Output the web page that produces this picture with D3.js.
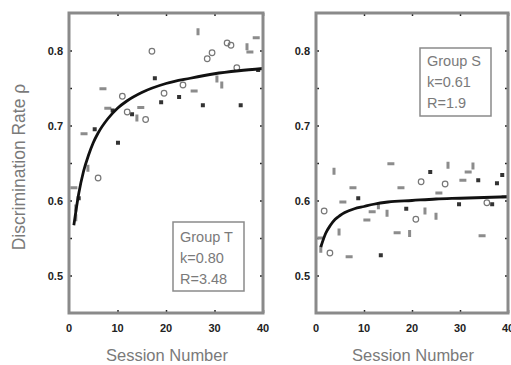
<!DOCTYPE html>
<html>
<head>
<meta charset="utf-8">
<script src="https://cdn.jsdelivr.net/npm/d3@7"></script>
<style>
  body { margin: 0; background: #fff; }
  svg { display: block; font-family: "Liberation Sans", Arial, sans-serif; }
</style>
</head>
<body>
<div id="chart"></div>
<script>
const curveSessions = [1, 2, 3, 4, 5, 6, 8, 10, 12, 15, 20, 25, 30, 35, 40];
const curveT = [0.567, 0.609, 0.639, 0.660, 0.677, 0.690, 0.709, 0.723, 0.733, 0.744, 0.756, 0.763, 0.769, 0.773, 0.776];
const curveS = [0.538, 0.556, 0.567, 0.575, 0.580, 0.584, 0.589, 0.592, 0.595, 0.598, 0.600, 0.602, 0.603, 0.604, 0.605];

// group T points [session, rate]
const circlesT = [[17.1, 0.799], [32.6, 0.81], [33.4, 0.807], [28.5, 0.789], [29.5, 0.797], [19.6, 0.743],
  [23.5, 0.754], [34.6, 0.777], [11, 0.739], [12, 0.718], [15.8, 0.708], [6, 0.63]];
const squaresT = [[17.7, 0.763], [19, 0.731], [22.7, 0.738], [27.6, 0.727], [35.4, 0.727], [39, 0.774],
  [9, 0.72], [13, 0.715], [5.3, 0.695], [10.1, 0.677], [2, 0.603]];
const dashesT = [[7, 0.749], [8, 0.723], [14.8, 0.724], [25.8, 0.746], [37.3, 0.798], [38.6, 0.817],
  [3.1, 0.689], [1, 0.617]];
const barsT = [[26.6, 0.825], [36.7, 0.805], [30.5, 0.762], [31.5, 0.754], [14, 0.71], [3.9, 0.643],
  [1.4, 0.59], [1.4, 0.577]];

// group S points
const circlesS = [[1.7, 0.586], [2.9, 0.53], [21.9, 0.625], [26.9, 0.622], [20.8, 0.575], [35.6, 0.597]];
const squaresS = [[8.8, 0.603], [13.5, 0.527], [18.8, 0.589], [23.8, 0.638], [38.8, 0.634], [29.8, 0.595],
  [33.8, 0.627], [37.7, 0.623], [36.7, 0.595]];
const dashesS = [[15.6, 0.649], [7.7, 0.617], [17.7, 0.617], [5.6, 0.598], [11.7, 0.585], [10.6, 0.574],
  [16.9, 0.557], [6.9, 0.525], [31.7, 0.638], [30.6, 0.627], [25.6, 0.61], [34.6, 0.553], [39.4, 0.605], [1, 0.55]];
const barsS = [[3.75, 0.639], [27.5, 0.647], [32.7, 0.646], [13, 0.593], [14.8, 0.583], [4.8, 0.558],
  [19.5, 0.556], [22.7, 0.586], [25, 0.579], [1, 0.535]];

const xTicks = [0, 10, 20, 30, 40];
const yTicks = [0.5, 0.6, 0.7, 0.8];
const yMinorTicks = [0.55, 0.65, 0.75];
const legendT = ['Group T', 'k=0.80', 'R=3.48'];
const legendS = ['Group S', 'k=0.61', 'R=1.9'];

const panels = [
  { left: 69, right: 263, curve: curveT, circles: circlesT, squares: squaresT, dashes: dashesT, bars: barsT,
    legend: legendT, box: [173, 222, 71, 69], textTop: 20 },
  { left: 316, right: 508, curve: curveS, circles: circlesS, squares: squaresS, dashes: dashesS, bars: barsS,
    legend: legendS, box: [420, 48, 71, 68], textTop: 18 }
];

const plotTop = 13, plotBottom = 313;
const frameColor = '#8a8a8a';
const textGray = '#7a7a7a';

const svg = d3.select('#chart').append('svg')
  .attr('width', 511)
  .attr('height', 365);

const y = d3.scaleLinear().domain([0.45, 0.85]).range([plotBottom, plotTop]);

panels.forEach(p => {
  const x = d3.scaleLinear().domain([0, 40]).range([p.left, p.right]);
  const g = svg.append('g');

  // inward ticks on all four sides
  g.append('g')
    .attr('transform', `translate(0,${plotBottom})`)
    .call(d3.axisBottom(x).tickValues(xTicks.slice(1)).tickSize(-3).tickFormat(''))
    .call(a => a.select('.domain').remove());
  g.append('g')
    .attr('transform', `translate(0,${plotTop})`)
    .call(d3.axisTop(x).tickValues(xTicks.slice(1)).tickSize(-3).tickFormat(''))
    .call(a => a.select('.domain').remove());
  g.append('g')
    .attr('transform', `translate(${p.left},0)`)
    .call(d3.axisLeft(y).tickValues(yTicks.concat(yMinorTicks)).tickSize(-3).tickFormat(''))
    .call(a => a.select('.domain').remove());
  g.append('g')
    .attr('transform', `translate(${p.right},0)`)
    .call(d3.axisRight(y).tickValues(yTicks.concat(yMinorTicks)).tickSize(-3).tickFormat(''))
    .call(a => a.select('.domain').remove());
  g.selectAll('.tick line').attr('stroke', '#222').attr('stroke-width', 1.5);

  // tick labels
  g.selectAll('.xl').data(xTicks).enter().append('text')
    .attr('x', d => x(d)).attr('y', 332)
    .attr('text-anchor', 'middle')
    .attr('font-size', 11).attr('font-weight', 'bold').attr('fill', '#222')
    .text(d => d);
  g.selectAll('.yl').data(yTicks).enter().append('text')
    .attr('x', p.left - 6).attr('y', d => y(d) + 4)
    .attr('text-anchor', 'end')
    .attr('font-size', 11).attr('font-weight', 'bold').attr('fill', '#222')
    .text(d => d3.format('.1f')(d));

  // points
  g.selectAll('.dash').data(p.dashes).enter().append('rect')
    .attr('x', d => x(d[0]) - 3.5).attr('y', d => y(d[1]) - 1.5)
    .attr('width', 7).attr('height', 3).attr('fill', '#8c8c8c');
  g.selectAll('.bar').data(p.bars).enter().append('rect')
    .attr('x', d => x(d[0]) - 1.5).attr('y', d => y(d[1]) - 3.5)
    .attr('width', 3).attr('height', 7).attr('fill', '#8c8c8c');
  g.selectAll('.sq').data(p.squares).enter().append('rect')
    .attr('x', d => x(d[0]) - 2).attr('y', d => y(d[1]) - 2)
    .attr('width', 4).attr('height', 4).attr('fill', '#333');
  g.selectAll('.circ').data(p.circles).enter().append('circle')
    .attr('cx', d => x(d[0])).attr('cy', d => y(d[1])).attr('r', 2.8)
    .attr('fill', 'none').attr('stroke', '#777').attr('stroke-width', 1.2);

  // fitted curve
  const line = d3.line()
    .x((d, i) => x(curveSessions[i]))
    .y(d => y(d))
    .curve(d3.curveMonotoneX);
  g.append('path')
    .datum(p.curve)
    .attr('d', line)
    .attr('fill', 'none').attr('stroke', '#111').attr('stroke-width', 2.8);

  // frame
  g.append('rect')
    .attr('x', p.left).attr('y', plotTop)
    .attr('width', p.right - p.left).attr('height', plotBottom - plotTop)
    .attr('fill', 'none').attr('stroke', frameColor).attr('stroke-width', 3);

  // legend box
  const [bx, by, bw, bh] = p.box;
  g.append('rect')
    .attr('x', bx).attr('y', by).attr('width', bw).attr('height', bh)
    .attr('fill', '#fff').attr('stroke', frameColor).attr('stroke-width', 1.5);
  g.selectAll('.lg').data(p.legend).enter().append('text')
    .attr('x', bx + 7).attr('y', (d, i) => by + p.textTop + i * 21)
    .attr('font-size', 14.5).attr('fill', textGray)
    .text(d => d);

  // x title
  g.append('text')
    .attr('x', (p.left + p.right) / 2 + 1).attr('y', 361)
    .attr('text-anchor', 'middle')
    .attr('font-size', 16.5).attr('fill', textGray)
    .text('Session Number');
});

svg.append('text')
  .attr('transform', `translate(25,${(plotTop + plotBottom) / 2 + 4}) rotate(-90)`)
  .attr('text-anchor', 'middle')
  .attr('font-size', 17.5).attr('fill', textGray)
  .text('Discrimination Rate ρ');
</script>
</body>
</html>
